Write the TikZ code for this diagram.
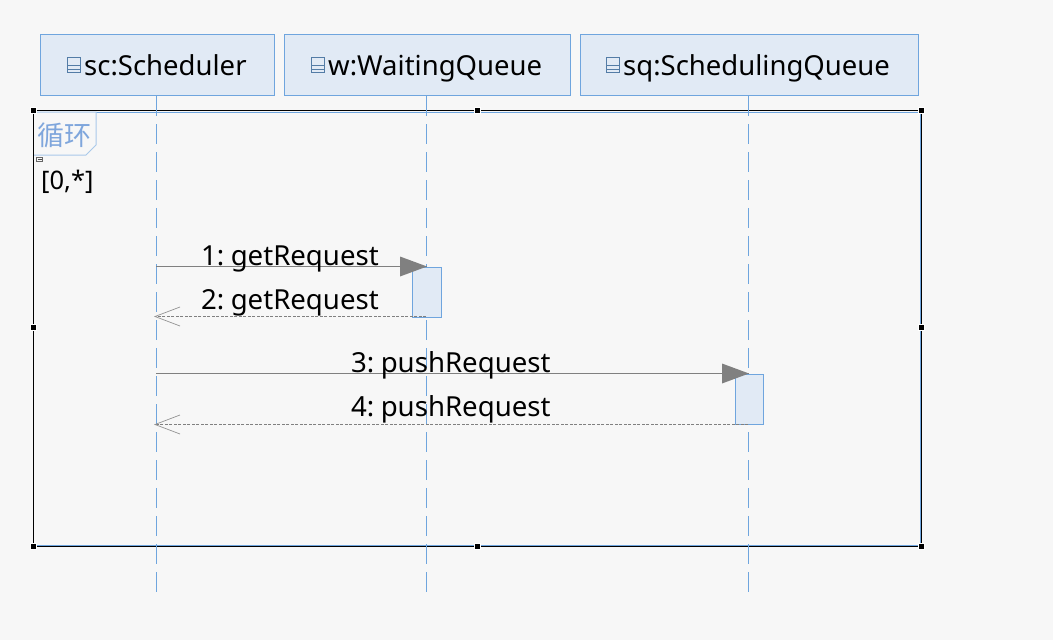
\documentclass[tikz,border=0pt]{standalone}
\usepackage{fontspec}
\setmainfont{Noto Sans}
\newfontfamily\cjk{Noto Sans CJK SC}
\definecolor{bgc}{HTML}{F7F7F7}
\definecolor{fillc}{HTML}{E1EAF5}
\definecolor{linec}{HTML}{6FA5DE}
\definecolor{tagline}{HTML}{A9C8EA}
\definecolor{tagtext}{HTML}{7FA6DC}
\definecolor{arrowc}{HTML}{808080}
\tikzset{
  x=1pt,y=-1pt,
  headbox/.style={draw=linec,fill=fillc,line width=1pt,minimum height=61pt,inner sep=0pt,anchor=north west},
  headtext/.style={font=\fontsize{27.5}{30}\selectfont,inner sep=0pt,text=black,anchor=base west},
  lifeline/.style={draw=linec,line width=1pt,dash pattern=on 20pt off 8pt},
  actbox/.style={draw=linec,fill=fillc,line width=1pt,inner sep=0pt,anchor=north west},
  msglabel/.style={font=\fontsize{27.6}{30}\selectfont,inner sep=0pt,text=black,anchor=base west},
  handle/.style={fill=black,draw=white,line width=.6pt,minimum size=6pt,inner sep=0pt},
  callline/.style={draw=arrowc,line width=1pt},
  retline/.style={draw=arrowc,line width=1pt,dash pattern=on 3pt off 1.5pt},
  headtip/.style={fill=arrowc,draw=none},
  opentip/.style={draw=arrowc!85,line width=.7pt},
  iconbox/.style={draw=linec!75!black,fill=fillc,line width=.9pt}
}
\newcommand{\classicon}[2]{%
  \draw[iconbox] (#1-6.5,#2-7.5) rectangle (#1+6.5,#2+7.5);
  \draw[iconbox] (#1-6.5,#2+0.5) -- (#1+6.5,#2+0.5);
  \draw[iconbox] (#1-6.5,#2+4.5) -- (#1+6.5,#2+4.5);
}
\begin{document}
\begin{tikzpicture}
\useasboundingbox (0,0) rectangle (1053,640);
\fill[bgc] (0,0) rectangle (1053,640);

% frame
\draw[linec,line width=.9pt] (34,112) -- (920.3,112) -- (920.3,545) -- (34,545);
\draw[black,line width=1pt] (33,110) -- (921,110) -- (921,546) -- (33,546) -- cycle;

% header boxes
\node[headbox,minimum width=233.5pt] (sc) at (40,34) {};
\node[headbox,minimum width=285.5pt] (wq) at (284,34) {};
\node[headbox,minimum width=337.5pt] (sq) at (580,34) {};
\classicon{73.5}{65}
\classicon{318}{65}
\classicon{613}{65}
\node[headtext] (sct) at (84,75) {sc:Scheduler};
\node[headtext] (wqt) at (328,75) {w:WaitingQueue};
\node[headtext] (sqt) at (623,75) {sq:SchedulingQueue};

% lifeline ends
\coordinate (l1a) at (156,96); \coordinate (l1b) at (156,592);
\coordinate (l2a) at (426,96); \coordinate (l2b) at (426,592);
\coordinate (l3a) at (748,96); \coordinate (l3b) at (748,592);
\draw[lifeline] (l1a) -- (l1b);
\draw[lifeline] (l2a) -- (l2b);
\draw[lifeline] (l3a) -- (l3b);

% loop tag
\path[fill=bgc,draw=tagline,line width=1pt] (34,112) -- (96,112) -- (96,145) -- (86,155) -- (34,155);
\node[font=\cjk\fontsize{27}{29}\selectfont,text=tagtext,inner sep=0pt] (looptag) at (64.5,135) {循环};
\node[draw=black!60,fill=bgc,line width=.6pt,minimum width=6pt,minimum height=4.5pt,inner sep=0pt] (fold) at (39.5,159.5) {};
\draw[black!70,line width=.6pt] ([xshift=-2pt]fold.center) -- ([xshift=2pt]fold.center);
\node[font=\fontsize{25.5}{28}\selectfont,inner sep=0pt,anchor=base west] (guard) at (41,189.5) {[0,*]};

% activations
\node[actbox,minimum width=28.5pt,minimum height=50pt] (a1) at (412,266.5) {};
\node[actbox,minimum width=27.5pt,minimum height=49.5pt] (a2) at (735,374) {};

% message anchors
\coordinate (m1s) at (156,266.5); \coordinate (m1e) at (427,266.5);
\coordinate (m2s) at (426,316.5); \coordinate (m2e) at (155,316.5);
\coordinate (m3s) at (156,373.5); \coordinate (m3e) at (749,373.5);
\coordinate (m4s) at (748,424.5); \coordinate (m4e) at (155,424.5);

\draw[callline] (m1s) -- (m1e);
\fill[headtip] (m1e) -- ++(-27,-10) -- ++(0,20) -- cycle;
\draw[retline] (m2s) -- (m2e);
\draw[opentip] (180,307) -- (m2e) -- (180,326);
\draw[callline] (m3s) -- (m3e);
\fill[headtip] (m3e) -- ++(-27,-10) -- ++(0,20) -- cycle;
\draw[retline] (m4s) -- (m4e);
\draw[opentip] (180,415) -- (m4e) -- (180,434);

\node[msglabel] (t1) at (201,265) {1:\hspace{6.4pt}getRequest};
\node[msglabel] (t2) at (201,309) {2:\hspace{6.4pt}getRequest};
\node[msglabel] (t3) at (351,372) {3:\hspace{6.4pt}pushRequest};
\node[msglabel] (t4) at (351,416) {4:\hspace{6.4pt}pushRequest};

% handles
\foreach \n/\hx/\hy in {h1/33/110,h2/477/110,h3/921/110,h4/33/327,h5/921/327,h6/33/546,h7/477/546,h8/921/546}
  \node[handle] (\n) at (\hx,\hy) {};
\end{tikzpicture}
\end{document}
